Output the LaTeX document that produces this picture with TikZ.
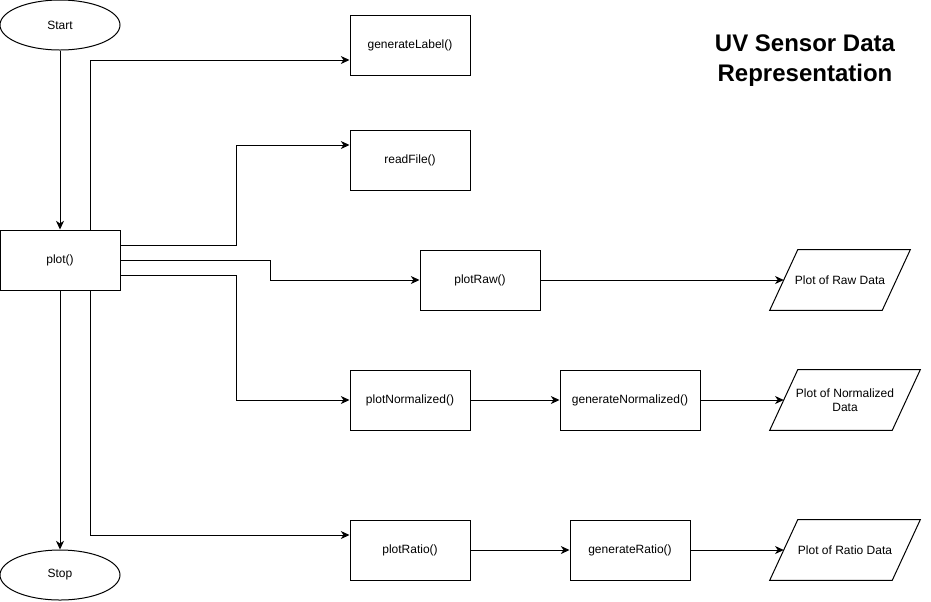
\documentclass[tikz,border=0pt]{standalone}
\usepackage{fontspec}
\setmainfont{Liberation Sans}
\usepackage{tikz}
\usetikzlibrary{arrows.meta,positioning,calc,shapes.geometric}
\tikzset{
  box/.style={draw,line width=0.75pt,fill=white,minimum width=90pt,minimum height=45pt,inner sep=1pt,font=\fontsize{9}{10.8}\selectfont},
  term/.style={draw,ellipse,line width=0.75pt,minimum width=90pt,minimum height=37.5pt,inner sep=0pt,font=\fontsize{9}{10.8}\selectfont},
  dat/.style={minimum width=#1,minimum height=45pt,inner sep=1pt,align=center,font=\fontsize{9}{10.8}\selectfont},
  dat/.default={112.5pt},
  arr/.style={-{Stealth[length=6.5pt,width=6pt,inset=2pt]},line width=0.75pt},
  ttl/.style={align=center,font=\fontsize{18}{22.5}\selectfont\bfseries},
}
\begin{document}
\begin{tikzpicture}[x=0.75pt,y=-0.75pt]
 \useasboundingbox (0,0) rectangle (931,601);
 \node[term] (start) at (60,25) {Start};
 \node[box] (plot) at (60,260) {plot()};
 \node[term] (stop) at (60,575) {Stop};
 \node[box] (glbl) at (410,45) {generateLabel()};
 \node[box] (rdf) at (410,160) {readFile()};
 \node[box] (praw) at (480,280) {plotRaw()};
 \node[box] (pnorm) at (410,400) {plotNormalized()};
 \node[box,minimum width=105pt] (gnorm) at (630,400) {generateNormalized()};
 \node[box] (pratio) at (410,550) {plotRatio()};
 \node[box] (gratio) at (630,550) {generateRatio()};
 \node[dat=105pt] (oraw) at (840,280) {Plot of Raw Data};
 \node[dat] (onorm) at (845,400) {Plot of Normalized\\Data};
 \node[dat] (oratio) at (845,550) {Plot of Ratio Data};
 \node[ttl] (title) at (805,61) {UV Sensor Data\\Representation};
 % data outputs as parallelograms
 \foreach \n in {oraw,onorm,oratio}
   \draw[line width=0.75pt] (\n.south west) -- ($(\n.north west)+(28,0)$) -- (\n.north east) -- ($(\n.south east)+(-28,0)$) -- cycle;
 % main flow
 \draw[arr] (start) -- (plot);
 \draw[arr] (plot) -- (stop);
 % calls from plot()
 \draw[arr] ($(plot.north)+(30,0)$) |- ($(glbl.west)+(0,15)$);
 \draw[arr] ($(plot.east)+(0,-15)$) -- ++(116,0) |- ($(rdf.west)+(0,-15)$);
 \draw[arr] (plot.east) -- ++(150,0) |- (praw.west);
 \draw[arr] ($(plot.east)+(0,15)$) -- ++(116,0) |- (pnorm.west);
 \draw[arr] ($(plot.south)+(30,0)$) |- ($(pratio.west)+(0,-15)$);
 % outputs
 \draw[arr] (praw.east) -- ($(oraw.west)+(14,0)$);
 \draw[arr] (pnorm) -- (gnorm);
 \draw[arr] (gnorm.east) -- ($(onorm.west)+(14,0)$);
 \draw[arr] (pratio) -- (gratio);
 \draw[arr] (gratio.east) -- ($(oratio.west)+(14,0)$);
\end{tikzpicture}
\end{document}
